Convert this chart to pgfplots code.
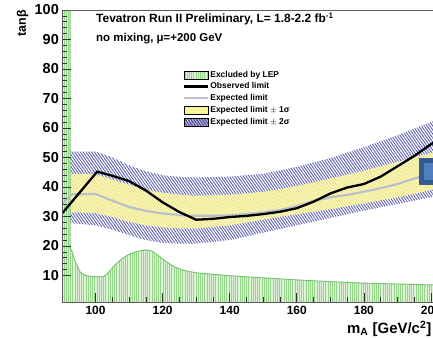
\documentclass[border=0pt]{standalone}
\usepackage{fontspec}
\setmainfont{Liberation Sans}
\usepackage{pgfplots}
\usepackage{pgfplotstable}
\pgfplotsset{compat=1.18}
\usepgfplotslibrary{fillbetween}
\usetikzlibrary{patterns.meta}

\definecolor{hatchblue}{RGB}{95,95,178}
\definecolor{bandyellow}{RGB}{253,250,204}
\definecolor{hatchyellow}{RGB}{236,228,125}
\definecolor{lepbg}{RGB}{222,243,215}
\definecolor{leplines}{RGB}{150,212,140}
\definecolor{lepedge}{RGB}{115,195,110}
\definecolor{expgray}{RGB}{184,192,202}
\definecolor{framegray}{RGB}{90,90,90}
\definecolor{boxdark}{RGB}{52,90,145}
\definecolor{boxlight}{RGB}{78,128,192}

% expected-limit bands: x, -2sigma, -1sigma, +1sigma, +2sigma
\pgfplotstableread{
x    lotwo loone hione hitwo
90   28.0  31.5  44.5  52.0
94   27.6  31.4  44.4  52.0
100  27.0  31.2  44.3  52.0
105  25.5  29.8  42.5  50.0
110  23.7  28.2  40.7  47.3
115  22.0  27.0  39.0  45.3
120  21.0  26.3  38.0  44.0
125  20.8  26.0  37.3  43.4
130  20.8  26.0  37.0  43.2
140  22.0  27.0  37.3  43.5
150  24.5  29.0  38.3  44.5
160  27.0  30.8  40.3  46.8
170  29.5  32.5  42.8  49.8
180  32.0  34.5  45.5  53.5
190  34.2  36.5  48.5  57.5
200  36.5  39.0  51.5  62.0
210  38.5  41.0  54.5  66.0
}\bands

\pgfplotstableread{
x     y
90    33.8
91    35.5
93    37.5
100   37.6
105   35.4
110   33.2
115   31.9
120   31.0
128   30.2
138   30.3
145   30.8
150   31.4
155   32.2
160   33.5
165   35.3
170   36.5
175   37.3
180   38.4
185   39.6
190   41.0
196   43.2
200   44.2
210   47.0
}\expected

\pgfplotstableread{
x     y
90    31.0
100.5 45.2
105   43.8
110   42.0
115   38.8
120   34.8
125   31.5
130   28.9
135   29.2
140   29.8
145   30.2
150   30.8
155   31.6
160   32.8
165   35.0
170   37.8
175   39.8
180   41.0
185   43.5
190   47.0
195   50.5
200   54.5
210   61.0
}\observed

% LEP excluded region (outline of the filled area)
\pgfplotstableread{
x     y
90    1
90    100
92.4  100
92.4  19.5
93    18.0
94    14.5
95.5  11.0
97    10.0
100   9.5
102.5 9.6
104   11.2
106   13.8
108   15.8
110   17.2
112.5 18.2
115.5 18.7
117   18.2
119   16.5
121   14.8
123   13.2
126   11.8
130   10.9
135   10.4
140   9.9
150   9.2
160   8.5
170   7.9
180   7.4
190   7.1
200   6.8
210   6.6
210   1
}\lepfill

% LEP boundary
\pgfplotstableread{
x     y
92.4  100
92.4  19.5
93    18.0
94    14.5
95.5  11.0
97    10.0
100   9.5
102.5 9.6
104   11.2
106   13.8
108   15.8
110   17.2
112.5 18.2
115.5 18.7
117   18.2
119   16.5
121   14.8
123   13.2
126   11.8
130   10.9
135   10.4
140   9.9
150   9.2
160   8.5
170   7.9
180   7.4
190   7.1
200   6.8
210   6.6
}\lepedge

\tikzset{
  bluehatch/.style={pattern={Lines[angle=-55,distance=2.3bp,line width=0.9bp]}, pattern color=hatchblue},
  yellowhatch/.style={pattern={Lines[angle=-55,distance=2.3bp,line width=0.9bp]}, pattern color=hatchyellow},
  lephatch/.style={pattern={Lines[angle=90,distance=2.2bp,line width=0.6bp]}, pattern color=leplines},
}

\begin{document}
\begin{tikzpicture}
\begin{axis}[
  at={(62bp,36bp)}, anchor=south west,
  scale only axis, width=402.5bp, height=292bp,
  xmin=90, xmax=210, ymin=1, ymax=100,
  axis on top,
  axis line style={draw=framegray, line width=0.7bp},
  xtick={100,120,...,200}, ytick={10,20,...,100},
  minor x tick num=3, minor y tick num=4,
  tick align=inside, tick pos=left,
  major tick length=9bp, minor tick length=4.5bp,
  tick style={draw=black!80, line width=0.7bp},
  /pgf/number format/assume math mode=true,
  xticklabel style={font=\fontsize{12}{12}\selectfont\bfseries, anchor=north, inner sep=0bp, yshift=-4bp},
  yticklabel style={font=\fontsize{14.5}{14.5}\selectfont\bfseries, anchor=east, inner sep=0bp, xshift=-3bp},
  xlabel={m\textsubscript{A} [GeV/c\textsuperscript{2}]},
  xlabel style={at={(axis description cs:0.708,-0.107)}, anchor=base west, inner sep=0bp,
    font=\fontsize{15}{15}\selectfont\bfseries},
  ylabel={tanβ},
  ylabel style={at={(axis description cs:-0.098,1.0)}, anchor=east, inner sep=0bp,
    font=\fontsize{12.5}{12.5}\selectfont\bfseries},
  legend cell align=left,
  legend style={at={(axis description cs:0.3006,0.7945)}, anchor=north west,
    draw=none, fill=none, inner sep=0bp, row sep=2.45bp,
    font=\fontsize{8.5}{9}\selectfont\bfseries,
    nodes={inner sep=0.6bp, text height=6.3bp, text depth=1.8bp},
    /tikz/every even column/.append style={column sep=0bp}},
]

% legend entries, in the order they are listed
\addlegendimage{legend image code/.code={
  \fill[lepbg] (0bp,-4bp) rectangle (24bp,4bp);
  \fill[lephatch] (0bp,-4bp) rectangle (24bp,4bp);}}
\addlegendentry{Excluded by LEP}
\addlegendimage{legend image code/.code={
  \draw[black, line width=2.6bp] (0bp,0bp) -- (24bp,0bp);}}
\addlegendentry{Observed limit}
\addlegendimage{legend image code/.code={
  \draw[expgray, line width=1.8bp] (0bp,0bp) -- (24bp,0bp);}}
\addlegendentry{Expected limit}
\addlegendimage{legend image code/.code={
  \fill[bandyellow!70!yellow] (0bp,-4bp) rectangle (24bp,4bp);
  \fill[yellowhatch, pattern color=hatchyellow!60!white] (0bp,-4bp) rectangle (24bp,4bp);}}
\addlegendentry{Expected limit $\pm$ 1σ}
\addlegendimage{legend image code/.code={
  \fill[hatchblue!85!black] (0bp,-4bp) rectangle (24bp,4bp);
  \fill[pattern={Lines[angle=-55,distance=2.3bp,line width=0.7bp]}, pattern color=white!75!hatchblue] (0bp,-4bp) rectangle (24bp,4bp);}}
\addlegendentry{Expected limit $\pm$ 2σ}

% LEP exclusion
\addplot[fill=lepbg, draw=none, forget plot] table[x=x,y=y] {\lepfill};
\addplot[lephatch, draw=none, forget plot] table[x=x,y=y] {\lepfill};
\addplot[lepedge, line width=0.9bp, forget plot] table[x=x,y=y] {\lepedge};

% expected bands
\addplot[name path=hitwo, draw=none, forget plot] table[x=x,y=hitwo] {\bands};
\addplot[name path=lotwo, draw=none, forget plot] table[x=x,y=lotwo] {\bands};
\addplot[name path=hione, draw=none, forget plot] table[x=x,y=hione] {\bands};
\addplot[name path=loone, draw=none, forget plot] table[x=x,y=loone] {\bands};
\addplot[bluehatch, draw=none, forget plot] fill between[of=hitwo and lotwo];
\addplot[fill=bandyellow, draw=none, forget plot] fill between[of=hione and loone];
\addplot[yellowhatch, draw=none, forget plot] fill between[of=hione and loone];

% limits
\addplot[expgray, line width=2.2bp, forget plot] table[x=x,y=y] {\expected};
\addplot[black, line width=2.3bp, forget plot] table[x=x,y=y] {\observed};

\node[anchor=base west, inner sep=0bp, font=\fontsize{12}{12}\selectfont\bfseries]
  at (axis description cs:0.0845,0.9555) {Tevatron Run II Preliminary, L= 1.8-2.2 fb\textsuperscript{-1}};
\node[anchor=base west, inner sep=0bp, font=\fontsize{11.5}{11.5}\selectfont\bfseries]
  at (axis description cs:0.0845,0.8938) {no mixing, μ=+200 GeV};
\end{axis}
% slide button at the right edge
\fill[boxdark] (419bp,153bp) rectangle (433bp,180bp);
\fill[boxlight] (424bp,158bp) rectangle (433bp,175bp);
\pgfresetboundingbox
\path[use as bounding box] (0bp,0bp) rectangle (433bp,338bp);
\end{tikzpicture}
\end{document}
